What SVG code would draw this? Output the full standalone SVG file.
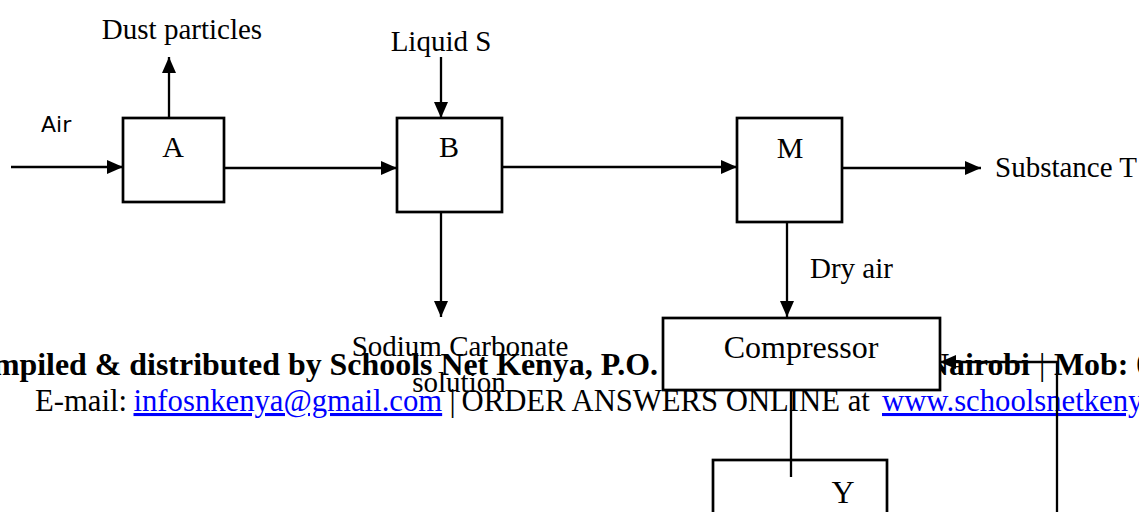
<svg xmlns="http://www.w3.org/2000/svg" width="1139" height="512" viewBox="0 0 1139 512">
<defs>
<marker id="arr" viewBox="0 0 16 14" refX="16" refY="7" markerWidth="16" markerHeight="14" markerUnits="userSpaceOnUse" orient="auto">
<path d="M0,0 L16,7 L0,14 z" fill="#000"/>
</marker>
<style>
.box{fill:#fff;stroke:#000;stroke-width:2.7}
.ln{fill:none;stroke:#000;stroke-width:2.3}
.ar{fill:none;stroke:#000;stroke-width:2.3;marker-end:url(#arr)}
.t{font-family:"Liberation Serif","Times New Roman",serif;font-size:29px;fill:#000}
.tc{font-family:"Liberation Serif","Times New Roman",serif;font-size:29px;fill:#000;text-anchor:middle}
.lbl{font-family:"Liberation Serif","Times New Roman",serif;font-size:30px;fill:#000;text-anchor:middle}
.big{font-family:"Liberation Serif","Times New Roman",serif;font-size:32px;fill:#000}
.sans{font-family:"DejaVu Sans","Liberation Sans",sans-serif;font-size:22px;fill:#000}
.fb{font-family:"Liberation Serif","Times New Roman",serif;font-size:31.9px;font-weight:bold;fill:#000}
.fr{font-family:"Liberation Serif","Times New Roman",serif;font-size:30.7px;fill:#000}
.lk{fill:#0000ff;text-decoration:underline}
</style>
</defs>
<rect width="1139" height="512" fill="#fff"/>
<g id="footer">
<text class="fb" x="658" y="375" text-anchor="end">Compiled &amp; distributed by Schools Net Kenya, P.O.</text>
<text class="fb" y="375"><tspan x="926">Nairobi</tspan><tspan x="1039" font-weight="normal">|</tspan><tspan x="1054">Mob: 0</tspan></text>
<text class="fr" y="411"><tspan x="35">E-mail: </tspan><tspan x="133.5" class="lk">infosnkenya@gmail.com</tspan><tspan x="449.5">|</tspan><tspan x="461.5">ORDER ANSWERS ONLINE at</tspan><tspan x="882" class="lk">www.schoolsnetkenya.com</tspan></text>
</g>
<g id="node-A">
<rect class="box" x="123" y="118" width="101" height="84"/>
<text class="lbl" x="173" y="157">A</text>
</g>
<g id="node-B">
<rect class="box" x="397" y="118" width="105" height="94"/>
<text class="lbl" x="449" y="157">B</text>
</g>
<g id="node-M">
<rect class="box" x="737" y="118" width="105" height="104"/>
<text class="lbl" x="790" y="158">M</text>
</g>
<g id="node-Compressor">
<rect class="box" x="663" y="318" width="277" height="72"/>
<text class="big" x="801" y="358" text-anchor="middle">Compressor</text>
</g>
<g id="node-Y">
<rect class="box" x="713" y="460" width="174" height="80"/>
<text class="big" x="843" y="503" text-anchor="middle">Y</text>
</g>
<g id="connectors">
<line class="ar" x1="11" y1="167" x2="123" y2="167"/>
<line class="ar" x1="169" y1="118" x2="169" y2="57"/>
<line class="ar" x1="224" y1="168" x2="397" y2="168"/>
<line class="ar" x1="441" y1="57" x2="441" y2="118"/>
<line class="ar" x1="441" y1="212" x2="441" y2="317"/>
<line class="ar" x1="502" y1="167" x2="737" y2="167"/>
<line class="ar" x1="842" y1="168" x2="981" y2="168"/>
<line class="ar" x1="787" y1="222" x2="787" y2="317"/>
<polyline class="ar" points="1057,520 1057,362 940,362"/>
<line class="ln" x1="791" y1="390" x2="791" y2="477"/>
</g>
<g id="labels">
<text class="sans" x="41" y="132">Air</text>
<text class="tc" x="182" y="39">Dust particles</text>
<text class="tc" x="441" y="51">Liquid S</text>
<text class="t" x="995" y="177">Substance T</text>
<text class="t" x="810" y="278">Dry air</text>
<text class="tc" x="460" y="356">Sodium Carbonate</text>
<text class="tc" x="459" y="392">solution</text>
</g>
</svg>
